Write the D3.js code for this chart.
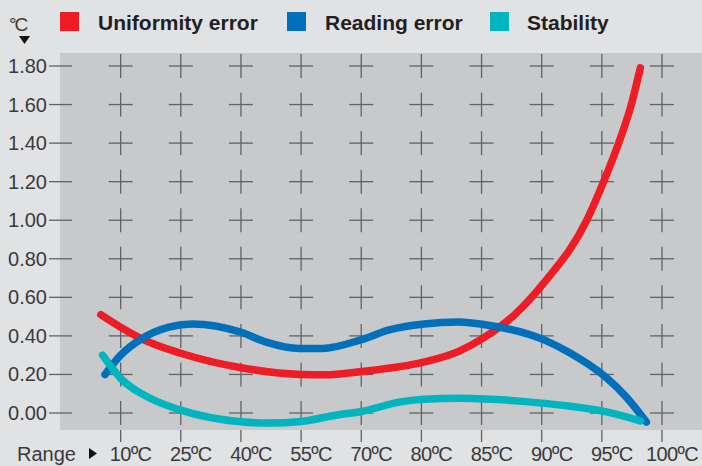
<!DOCTYPE html>
<html>
  <head>
    <meta charset="utf-8" />
    <script src="https://d3js.org/d3.v7.min.js"></script>
    <style>
      body { margin: 0; background: #e1e2e4; }
      text { font-family: "Liberation Sans", Arial, sans-serif; }
    </style>
  </head>
  <body>
    <svg id="chart" width="702" height="466"></svg>
    <script>
      // values; x is the tick slot (1 = 10ºC ... 10 = 100ºC)
      var xLabels = ["10ºC", "25ºC", "40ºC", "55ºC", "70ºC", "80ºC", "85ºC", "90ºC", "95ºC", "100ºC"];
      var yTicks = [0, 0.2, 0.4, 0.6, 0.8, 1.0, 1.2, 1.4, 1.6, 1.8];
      var seriesNames = ["Uniformity error", "Reading error", "Stability"];
      var seriesColors = ["#ee1c25", "#0070bb", "#00b5bd"];

      var uniformity = [
        [0.67, 0.51], [1.0, 0.445], [1.35, 0.385], [2.0, 0.31], [3.0, 0.235],
        [4.0, 0.2], [4.4, 0.198], [5.0, 0.215], [6.05, 0.265], [6.62, 0.32],
        [7.06, 0.395], [7.55, 0.51], [8.05, 0.68], [8.75, 1.0], [9.03, 1.2],
        [9.28, 1.4], [9.49, 1.6], [9.64, 1.79]
      ];
      var reading = [
        [0.74, 0.2], [1.0, 0.3], [1.35, 0.385], [1.8, 0.445], [2.2, 0.462],
        [2.99, 0.42], [3.42, 0.368], [3.97, 0.335], [4.35, 0.335], [5.0, 0.38],
        [5.45, 0.43], [6.04, 0.462], [6.62, 0.472], [7.06, 0.458], [8.05, 0.378],
        [8.45, 0.315], [9.06, 0.187], [9.4, 0.085], [9.74, -0.047]
      ];
      var stability = [
        [0.7, 0.3], [1.0, 0.18], [1.5, 0.075], [2.0, 0.015], [2.99, -0.045],
        [3.47, -0.052], [3.99, -0.044], [4.6, -0.01], [5.0, 0.008], [5.68, 0.059],
        [6.04, 0.071], [6.62, 0.076], [7.06, 0.073], [8.05, 0.05], [8.45, 0.036],
        [9.06, 0.007], [9.64, -0.041]
      ];
      var allSeries = [uniformity, reading, stability];

      var svg = d3.select("#chart");

      var x = d3.scaleLinear().domain([0, 10]).range([60.5, 662]);
      var y = d3.scaleLinear().domain([0, 1.8]).range([413, 66]);

      // plot background
      svg.append("rect")
        .attr("x", 60).attr("y", 53)
        .attr("width", 642).attr("height", 377)
        .attr("fill", "#c8c9cb");

      var grid = svg.append("g").attr("stroke", "#616264").attr("stroke-width", 1.3);

      // y tick lines (also the half cross at the left edge)
      grid.selectAll(".ytick")
        .data(yTicks)
        .enter()
        .append("line")
        .attr("x1", 49).attr("x2", 72)
        .attr("y1", function (d) { return y(d); })
        .attr("y2", function (d) { return y(d); });

      // crosses
      var cells = [];
      xLabels.forEach(function (l, i) {
        yTicks.forEach(function (t) { cells.push([i + 1, t]); });
      });
      grid.selectAll(".ch")
        .data(cells)
        .enter()
        .append("line")
        .attr("x1", function (d) { return x(d[0]) - 12; })
        .attr("x2", function (d) { return x(d[0]) + 12; })
        .attr("y1", function (d) { return y(d[1]); })
        .attr("y2", function (d) { return y(d[1]); });
      grid.selectAll(".cv")
        .data(cells)
        .enter()
        .append("line")
        .attr("x1", function (d) { return x(d[0]); })
        .attr("x2", function (d) { return x(d[0]); })
        .attr("y1", function (d) { return y(d[1]) - 12; })
        .attr("y2", function (d) { return y(d[1]) + 12; });

      // x tick marks under the plot
      grid.selectAll(".xtick")
        .data(xLabels)
        .enter()
        .append("line")
        .attr("x1", function (d, i) { return x(i + 1); })
        .attr("x2", function (d, i) { return x(i + 1); })
        .attr("y1", 430).attr("y2", 442);

      // y labels
      svg.selectAll(".ylab")
        .data(yTicks)
        .enter()
        .append("text")
        .attr("x", 47)
        .attr("y", function (d) { return y(d) + 7; })
        .attr("text-anchor", "end")
        .attr("font-size", 20)
        .attr("fill", "#3a3a3c")
        .text(function (d) { return d.toFixed(2); });

      // x labels (digits centred on the tick)
      svg.selectAll(".xlab")
        .data(xLabels)
        .enter()
        .append("text")
        .attr("x", function (d, i) { return x(i + 1) + 10; })
        .attr("y", 461)
        .attr("text-anchor", "middle")
        .attr("font-size", 20)
        .attr("letter-spacing", -0.6)
        .attr("fill", "#3a3a3c")
        .text(function (d) { return d; });

      svg.append("text")
        .attr("x", 17).attr("y", 461)
        .attr("font-size", 20)
        .attr("fill", "#3a3a3c")
        .text("Range");
      svg.append("path")
        .attr("d", "M89,448 L97,453.5 L89,459 Z")
        .attr("fill", "#111");

      // unit label
      svg.append("text")
        .attr("x", 9).attr("y", 31)
        .attr("font-size", 19)
        .attr("letter-spacing", -2)
        .attr("fill", "#3a3a3c")
        .text("°C");
      svg.append("path")
        .attr("d", "M19,36 L30,36 L24.5,44 Z")
        .attr("fill", "#111");

      // legend
      var legendX = [60, 287, 490];
      var legend = svg.selectAll(".leg")
        .data(seriesNames)
        .enter()
        .append("g")
        .attr("transform", function (d, i) { return "translate(" + legendX[i] + ",12)"; });
      legend.append("rect")
        .attr("width", 19).attr("height", 19)
        .attr("fill", function (d, i) { return seriesColors[i]; });
      legend.append("text")
        .attr("x", function (d, i) { return i == 2 ? 37 : 38; })
        .attr("y", 18)
        .attr("font-size", 21)
        .attr("font-weight", "bold")
        .attr("fill", "#231f20")
        .text(function (d) { return d; });

      // curves
      var line = d3.line()
        .x(function (d) { return x(d[0]); })
        .y(function (d) { return y(d[1]); })
        .curve(d3.curveMonotoneX);

      svg.selectAll(".curve")
        .data(allSeries)
        .enter()
        .append("path")
        .attr("d", line)
        .attr("fill", "none")
        .attr("stroke", function (d, i) { return seriesColors[i]; })
        .attr("stroke-width", 7.5)
        .attr("stroke-linecap", "round")
        .attr("stroke-linejoin", "round");
    </script>
  </body>
</html>
